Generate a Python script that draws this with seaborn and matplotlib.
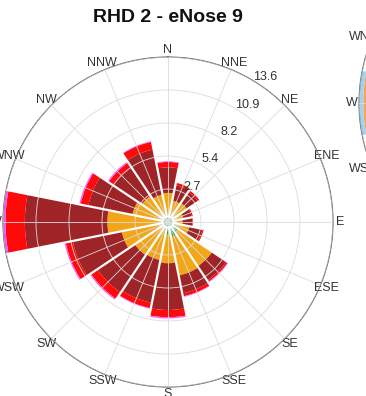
import numpy as np
import matplotlib
matplotlib.use("Agg")
import matplotlib.pyplot as plt
import seaborn as sns

# 16 compass sectors, clockwise from north
directions = ["N", "NNE", "NE", "ENE", "E", "ESE", "SE", "SSE",
              "S", "SSW", "SW", "WSW", "W", "WNW", "NW", "NNW"]

# frequency (%) of each speed class per sector, stacked from the centre out
class_1 = [0.3, 0.3, 0.3, 0.3, 0.3, 0.3, 0.3, 0.3,
           0.3, 0.3, 0.3, 0.3, 0.3, 0.3, 0.3, 0.3]
class_2 = [0.35, 0.35, 0.35, 0.3, 0.3, 0.5, 0.75, 0.95,
           0.75, 0.45, 0.35, 0.3, 0.3, 0.3, 0.35, 0.35]
class_3 = [1.75, 1.15, 1.25, 0.7, 0.6, 1.0, 3.35, 3.25,
           2.35, 2.45, 2.65, 3.3, 4.4, 2.4, 1.95, 1.65]
class_4 = [2.1, 1.3, 1.1, 0.7, 0.8, 1.1, 1.4, 1.5,
           3.85, 3.6, 3.7, 4.1, 6.8, 3.7, 2.8, 3.8]
class_5 = [0.45, 0.2, 0.15, 0.1, 0.05, 0.1, 0.15, 0.25,
           0.6, 0.45, 0.65, 0.6, 1.6, 0.65, 0.5, 0.65]
class_6 = [0.05, 0.0, 0.0, 0.0, 0.0, 0.0, 0.05, 0.05,
           0.1, 0.05, 0.1, 0.1, 0.2, 0.1, 0.1, 0.05]
class_colors = ["#b9e6b0", "#22a040", "#f2a71b", "#9e2428", "#ff0a0a", "#ff50ff"]

# radial rings and their labels
ring_values = [2.72, 5.44, 8.16, 10.88, 13.6]
ring_labels = ["2.7", "5.4", "8.2", "10.9", "13.6"]

# neighbouring rose, only its western edge shows at the right border
nb_directions = ["WSW", "W", "WNW"]
nb_class_a = [11.5, 13.25, 12.0]
nb_class_b = [0.9, 0.35, 0.8]
nb_colors = ["#f5a35a", "#9fd3f0"]

sns.set_theme(style="white")
plt.rcParams["font.family"] = ["Liberation Sans", "DejaVu Sans"]

fig = plt.figure(figsize=(3.66, 3.96), dpi=100)


def style_rose(ax, rmax):
    ax.set_theta_zero_location("N")
    ax.set_theta_direction(-1)
    ax.set_ylim(0, rmax)
    ax.set_xticks(np.deg2rad(np.arange(16) * 22.5))
    ax.set_xticklabels(directions, fontsize=9, color="#333333")
    ax.tick_params(axis="x", pad=-8)
    ax.set_yticks(ring_values)
    ax.set_yticklabels([])
    ax.set_axisbelow(False)
    ax.grid(True, color=(0.86, 0.86, 0.86, 0.6), linewidth=0.6)
    ax.spines["polar"].set_color("#5a5a5a")
    ax.spines["polar"].set_linewidth(0.8)


ax = fig.add_axes([0.0082, 0.0227, 0.9016, 0.8333], projection="polar")
theta = np.deg2rad(np.arange(len(directions)) * 22.5)
width = np.deg2rad(22.5)
stack = [class_1, class_2, class_3, class_4, class_5, class_6]
bottom = np.zeros(len(directions))
for vals, col in zip(stack, class_colors):
    ax.bar(theta, vals, width=width, bottom=bottom, color=col,
           edgecolor="none", zorder=1)
    bottom = bottom + np.array(vals)
totals = bottom

# white separators between neighbouring sectors
for k in range(len(directions)):
    edge = theta[k] + width / 2
    reach = max(totals[k], totals[(k + 1) % len(directions)])
    ax.plot([edge, edge], [0.35, reach], color="white", lw=1.6,
            solid_capstyle="butt", zorder=3)

style_rose(ax, ring_values[-1])
for v, lab in zip(ring_values, ring_labels):
    ax.text(np.deg2rad(34), v + 0.8, lab, fontsize=9, color="#333333",
            ha="center", va="center")
fig.text(168 / 366, 1 - 17 / 396, "RHD 2 - eNose 9", fontsize=14,
         fontweight="bold", ha="center", va="center", color="#111111")

# the rose next to it, mostly outside the picture
ax2 = fig.add_axes([0.981, 0.323, 0.9016, 0.8333], projection="polar")
nb_theta = np.deg2rad([directions.index(d) * 22.5 for d in nb_directions])
ax2.bar(nb_theta, nb_class_a, width=width, color=nb_colors[0], edgecolor="none")
ax2.bar(nb_theta, nb_class_b, width=width, bottom=nb_class_a,
        color=nb_colors[1], edgecolor="none")
style_rose(ax2, ring_values[-1])

fig.savefig("out.png", dpi=100)
